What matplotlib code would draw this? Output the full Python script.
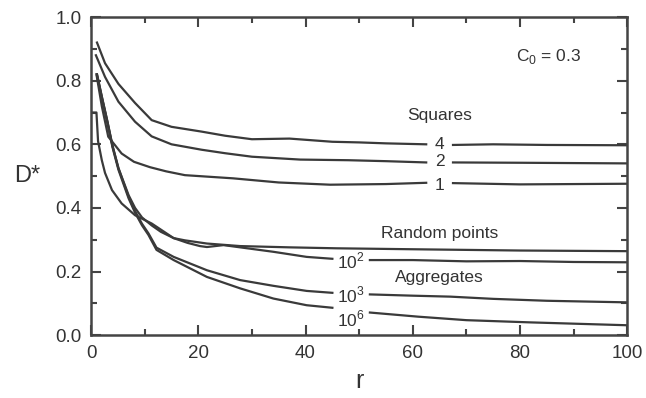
import numpy as np
import matplotlib
matplotlib.use("Agg")
from matplotlib import pyplot as plt
from matplotlib.ticker import MultipleLocator, FormatStrFormatter

plt.rcParams['font.family'] = ['Liberation Sans', 'DejaVu Sans']
plt.rcParams['mathtext.fontset'] = 'custom'
plt.rcParams['mathtext.rm'] = 'Liberation Sans'

# values
sq4_r = [1.1, 2.6, 5.1, 8.2, 11.3, 15, 20.6, 25, 30, 37, 45, 50, 55, 62.5, 67.5, 75, 85, 100]
sq4_d = [0.92, 0.855, 0.79, 0.73, 0.676, 0.655, 0.64, 0.627, 0.616, 0.618, 0.608, 0.606, 0.603, 0.60, 0.598, 0.60, 0.598, 0.597]

sq2_r = [0.9, 2.6, 5.1, 8.2, 11.3, 15, 20.6, 25, 30, 39, 48, 55, 62.5, 67.5, 80, 100]
sq2_d = [0.88, 0.812, 0.734, 0.671, 0.625, 0.60, 0.583, 0.572, 0.561, 0.552, 0.55, 0.547, 0.543, 0.543, 0.542, 0.54]

sq1_r = [1.0, 2.0, 3.2, 5.7, 8, 11, 14, 17.5, 26.5, 35, 44.6, 55, 62.5, 67.5, 80, 100]
sq1_d = [0.82, 0.72, 0.624, 0.571, 0.545, 0.528, 0.515, 0.503, 0.493, 0.48, 0.473, 0.475, 0.479, 0.478, 0.474, 0.476]

rnd_r = [0, 1.0, 1.3, 2.0, 2.6, 3.9, 5.7, 8.2, 11.3, 15.4, 17.5, 21.6, 27.8, 37, 45.8, 60, 80, 100]
rnd_d = [0.70, 0.70, 0.61, 0.55, 0.51, 0.456, 0.414, 0.377, 0.351, 0.305, 0.298, 0.288, 0.28, 0.276, 0.273, 0.27, 0.266, 0.264]

ag2_r = [1.1, 2, 3, 4, 5.1, 7, 8.2, 9.5, 11.3, 13, 15.4, 18, 20.3, 21.6, 24.7, 27.8, 34, 40.2, 45,
         52, 60, 70, 80, 90, 100]
ag2_d = [0.82, 0.75, 0.675, 0.595, 0.525, 0.44, 0.40, 0.37, 0.345, 0.325, 0.305, 0.29, 0.28, 0.277, 0.283, 0.276, 0.262, 0.246, 0.240,
         0.236, 0.236, 0.232, 0.233, 0.230, 0.229]

ag3_r = [1.1, 2, 3, 4, 5.1, 7, 8.2, 9.5, 10.7, 12.2, 15.4, 21.6, 27.8, 34, 40.2, 45,
         52, 60, 67, 75, 85, 100]
ag3_d = [0.82, 0.75, 0.675, 0.595, 0.525, 0.435, 0.39, 0.35, 0.32, 0.275, 0.246, 0.204, 0.173, 0.155, 0.139, 0.133,
         0.128, 0.124, 0.121, 0.114, 0.108, 0.103]

ag6_r = [1.1, 2, 3, 4, 5.1, 7, 8.2, 9.5, 10.7, 12.2, 15.4, 21.6, 27.8, 34, 40.2, 45,
         52, 61, 70, 82, 100]
ag6_d = [0.815, 0.745, 0.67, 0.59, 0.52, 0.43, 0.385, 0.345, 0.315, 0.268, 0.236, 0.183, 0.147, 0.115, 0.094, 0.086,
         0.071, 0.058, 0.047, 0.040, 0.031]

sq_labels = ['4', '2', '1']
ag_labels = ['10$^\\mathregular{2}$', '10$^\\mathregular{3}$', '10$^\\mathregular{6}$']

line_col = '#3a3a3a'
text_col = '#333333'
fs = 12.5
lw = 1.6

fig = plt.figure(figsize=(6.46, 3.98), dpi=100)
ax = fig.add_axes([0.141, 0.158, 0.830, 0.799])

# squares curves, broken where the numbers sit
for r, d in [(sq4_r, sq4_d), (sq2_r, sq2_d), (sq1_r, sq1_d)]:
    x, y = np.array(r), np.array(d)
    ax.plot(x[x <= 62.6], y[x <= 62.6], color=line_col, lw=lw)
    ax.plot(x[x >= 67.4], y[x >= 67.4], color=line_col, lw=lw)

ax.plot(rnd_r, rnd_d, color=line_col, lw=lw)

for r, d in [(ag2_r, ag2_d), (ag3_r, ag3_d), (ag6_r, ag6_d)]:
    x, y = np.array(r), np.array(d)
    ax.plot(x[x <= 45], y[x <= 45], color=line_col, lw=lw)
    ax.plot(x[x >= 52], y[x >= 52], color=line_col, lw=lw)

# curve labels
for lab, yy in zip(sq_labels, [0.598, 0.545, 0.47]):
    ax.text(65, yy, lab, ha='center', va='center', fontsize=fs, color=text_col)
for lab, yy in zip(ag_labels, [0.232, 0.127, 0.05]):
    ax.text(48.4, yy, lab, ha='center', va='center', fontsize=fs, color=text_col)

ax.text(65, 0.69, 'Squares', ha='center', va='center', fontsize=fs, color=text_col)
ax.text(65, 0.318, 'Random points', ha='center', va='center', fontsize=fs, color=text_col)
ax.text(65, 0.182, 'Aggregates', ha='center', va='center', fontsize=fs, color=text_col)
ax.text(85.3, 0.875, 'C$_\\mathregular{0}$ = 0.3', ha='center', va='center', fontsize=fs, color=text_col)

ax.set_xlim(0, 100)
ax.set_ylim(0, 1.0)
ax.xaxis.set_major_locator(MultipleLocator(20))
ax.xaxis.set_minor_locator(MultipleLocator(10))
ax.yaxis.set_major_locator(MultipleLocator(0.2))
ax.yaxis.set_minor_locator(MultipleLocator(0.1))
ax.xaxis.set_major_formatter(FormatStrFormatter('%d'))
ax.yaxis.set_major_formatter(FormatStrFormatter('%.1f'))

ax.tick_params(which='both', direction='in', top=True, right=True,
               color='#444444', width=1.5, labelsize=13.5, labelcolor=text_col)
ax.tick_params(which='major', length=7, pad=7)
ax.tick_params(which='minor', length=4)
for s in ax.spines.values():
    s.set_linewidth(1.8)
    s.set_color('#444444')

ax.set_xlabel('r', fontsize=18, color=text_col, labelpad=5)
ax.set_ylabel('D*', fontsize=17, color=text_col, rotation=0, va='center', ha='center', labelpad=20)

plt.savefig("out.png", dpi=100)
